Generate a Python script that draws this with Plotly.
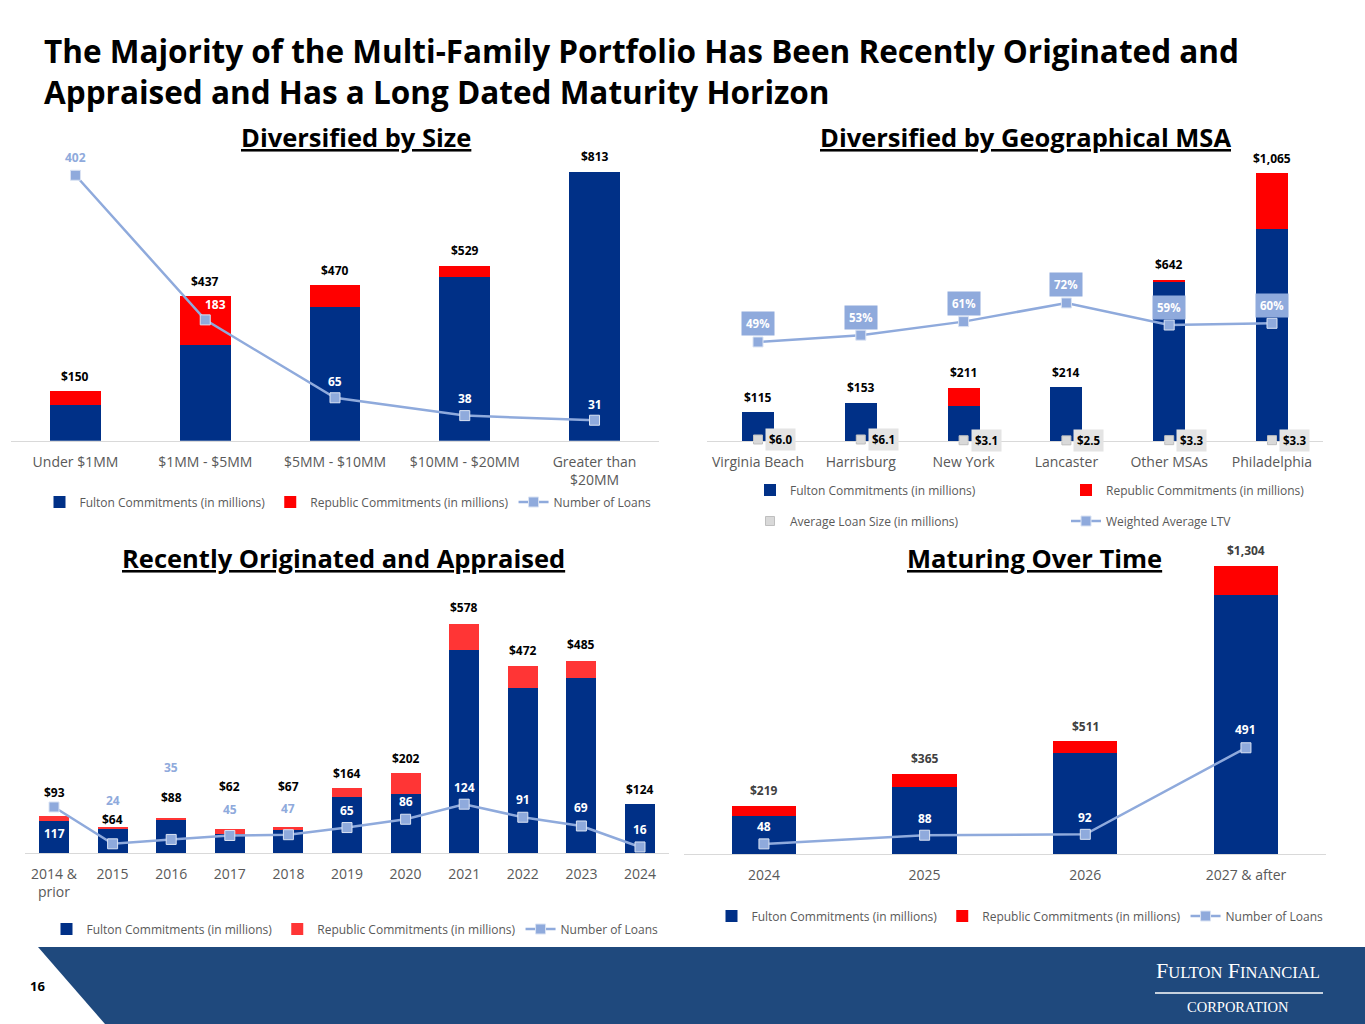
import plotly.graph_objects as go

# Diversified by Size
size_categories = ['Under $1MM', '$1MM - $5MM', '$5MM - $10MM', '$10MM - $20MM', 'Greater than<br>$20MM']
size_fulton = [108, 289, 403, 496, 813]
size_republic = [42, 148, 67, 33, 0]
size_loans = [402, 183, 65, 38, 31]

# Diversified by Geographical MSA
msa_categories = ['Virginia Beach', 'Harrisburg', 'New York', 'Lancaster', 'Other MSAs', 'Philadelphia']
msa_fulton = [115, 153, 141, 214, 637, 843]
msa_republic = [0, 0, 70, 0, 5, 222]
msa_avg_loan = [6.0, 6.1, 3.1, 2.5, 3.3, 3.3]
msa_ltv = [49, 53, 61, 72, 59, 60]

# Recently Originated and Appraised
orig_categories = ['2014 &<br>prior', '2015', '2016', '2017', '2018', '2019', '2020', '2021', '2022', '2023', '2024']
orig_fulton = [81, 61, 85, 49, 59, 142, 149, 512, 415, 441, 124]
orig_republic = [12, 3, 3, 13, 8, 22, 53, 66, 57, 44, 0]
orig_loans = [117, 24, 35, 45, 47, 65, 86, 124, 91, 69, 16]

# Maturing Over Time
mat_categories = ['2024', '2025', '2026', '2027 & after']
mat_fulton = [173, 304, 456, 1170]
mat_republic = [46, 61, 55, 134]
mat_loans = [48, 88, 92, 491]

W, H = 1365, 1024
NAVY = '#003087'
RED = '#ff0000'
RED_LIGHT = '#ff3535'
LINE_BLUE = '#8faadc'
GREY_TEXT = '#595959'
BASE_FONT = 'Open Sans'

# (x axis, bar y axis, line y axis) per chart
AXES = {1: ('x', 'y', 'y5'), 2: ('x2', 'y2', 'y6'), 3: ('x3', 'y3', 'y7'), 4: ('x4', 'y4', 'y8')}


def fx(px):
    return px / W


def fy(py):
    return 1 - py / H


def add_bars(fig, n, cats, fulton, republic, legend, width, red=RED):
    xa, ya, _ = AXES[n]
    fig.add_trace(go.Bar(x=cats, y=fulton, name='Fulton Commitments (in millions)',
                         marker=dict(color=NAVY, line=dict(width=0)), width=width,
                         xaxis=xa, yaxis=ya, legend=legend))
    fig.add_trace(go.Bar(x=cats, y=republic, name='Republic Commitments (in millions)',
                         marker=dict(color=red, line=dict(width=0)), width=width,
                         xaxis=xa, yaxis=ya, legend=legend))


def add_line(fig, n, cats, values, name, legend):
    xa, _, ya2 = AXES[n]
    fig.add_trace(go.Scatter(x=cats, y=values, name=name, mode='lines+markers',
                             line=dict(color=LINE_BLUE, width=2.5),
                             marker=dict(symbol='square', size=10, color=LINE_BLUE,
                                         line=dict(color='#dae3f3', width=1)),
                             cliponaxis=False, xaxis=xa, yaxis=ya2, legend=legend))


# annotations on category axes take the category's index
def total_labels(fig, n, cats, fulton, republic, shifts, color='#000000'):
    xa, ya, _ = AXES[n]
    for i in range(len(cats)):
        total = fulton[i] + republic[i]
        fig.add_annotation(x=i, y=total, xref=xa, yref=ya, text=f'<b>${total:,}</b>',
                           showarrow=False, yshift=shifts[i], xanchor='center', yanchor='middle',
                           font=dict(family=BASE_FONT, size=12, color=color))


def line_labels(fig, n, cats, values, colors, shifts, xshifts=None):
    xa, _, ya2 = AXES[n]
    for i in range(len(cats)):
        fig.add_annotation(x=i, y=values[i], xref=xa, yref=ya2, text=f'<b>{values[i]}</b>',
                           showarrow=False, yshift=shifts[i], xshift=(xshifts[i] if xshifts else 0),
                           xanchor='center', yanchor='middle',
                           font=dict(family=BASE_FONT, size=12, color=colors[i]))


def paper_text(fig, text, px, py, font, xanchor='center', align='center'):
    fig.add_annotation(x=fx(px), y=fy(py), xref='paper', yref='paper', text=text, showarrow=False,
                       xanchor=xanchor, yanchor='middle', align=align, font=font)


def main():
    fig = go.Figure()

    # chart 1
    add_bars(fig, 1, size_categories, size_fulton, size_republic, 'legend', 0.39)
    add_line(fig, 1, size_categories, size_loans, 'Number of Loans', 'legend')
    # chart 2
    add_bars(fig, 2, msa_categories, msa_fulton, msa_republic, 'legend2', 0.31)
    fig.add_trace(go.Scatter(x=msa_categories, y=msa_avg_loan, name='Average Loan Size (in millions)',
                             mode='markers', cliponaxis=False,
                             marker=dict(symbol='square', size=9, color='#d9d9d9',
                                         line=dict(color='#bfbfbf', width=1)),
                             xaxis='x2', yaxis='y2', legend='legend3'))
    add_line(fig, 2, msa_categories, msa_ltv, 'Weighted Average LTV', 'legend3')
    # chart 3
    add_bars(fig, 3, orig_categories, orig_fulton, orig_republic, 'legend4', 0.51, red=RED_LIGHT)
    add_line(fig, 3, orig_categories, orig_loans, 'Number of Loans', 'legend4')
    # chart 4
    add_bars(fig, 4, mat_categories, mat_fulton, mat_republic, 'legend5', 0.4)
    add_line(fig, 4, mat_categories, mat_loans, 'Number of Loans', 'legend5')

    xcommon = dict(type='category', showgrid=False, showline=True, linecolor='#d9d9d9', linewidth=1,
                   ticks='', zeroline=False, fixedrange=True, ticklabelstandoff=8,
                   tickfont=dict(family=BASE_FONT, size=14, color=GREY_TEXT))
    ycommon = dict(visible=False, showgrid=False, zeroline=False, fixedrange=True)

    fig.update_layout(
        width=W, height=H,
        margin=dict(l=0, r=0, t=0, b=0, autoexpand=False),
        paper_bgcolor='white', plot_bgcolor='rgba(0,0,0,0)',
        barmode='stack',
        font=dict(family=BASE_FONT, color=GREY_TEXT),
        xaxis=dict(xcommon, domain=[fx(10.6), fx(659.4)], anchor='y',
                   range=[-0.5, len(size_categories) - 0.5]),
        yaxis=dict(ycommon, domain=[fy(440.7), fy(142.9)], range=[0, 900], anchor='x'),
        yaxis5=dict(ycommon, overlaying='y', anchor='x', range=[0, 451]),
        xaxis2=dict(xcommon, domain=[fx(706.6), fx(1323.4)], anchor='y2',
                    range=[-0.5, len(msa_categories) - 0.5]),
        yaxis2=dict(ycommon, domain=[fy(441), fy(151.7)], range=[0, 1150], anchor='x2'),
        yaxis6=dict(ycommon, overlaying='y2', anchor='x2', range=[-9.4, 161.2]),
        xaxis3=dict(xcommon, domain=[fx(24.7), fx(669.3)], anchor='y3',
                    range=[-0.5, len(orig_categories) - 0.5]),
        yaxis3=dict(ycommon, domain=[fy(853.3), fy(595.1)], range=[0, 650], anchor='x3'),
        yaxis7=dict(ycommon, overlaying='y3', anchor='x3', range=[0, 652]),
        xaxis4=dict(xcommon, domain=[fx(683.6), fx(1326.3)], anchor='y4',
                    range=[-0.5, len(mat_categories) - 0.5]),
        yaxis4=dict(ycommon, domain=[fy(854.3), fy(544.5)], range=[0, 1400], anchor='x4'),
        yaxis8=dict(ycommon, overlaying='y4', anchor='x4', range=[0, 1428]),
    )

    legend_font = dict(family=BASE_FONT, size=12, color=GREY_TEXT)
    leg = dict(orientation='h', yanchor='middle', font=legend_font, bgcolor='rgba(0,0,0,0)',
               traceorder='normal', itemclick=False, itemdoubleclick=False)
    fig.update_layout(
        legend=dict(leg, x=fx(348), xanchor='center', y=fy(502)),
        legend2=dict(leg, x=fx(750), xanchor='left', y=fy(490), entrywidth=271),
        legend3=dict(leg, x=fx(750), xanchor='left', y=fy(521), entrywidth=271),
        legend4=dict(leg, x=fx(355), xanchor='center', y=fy(929)),
        legend5=dict(leg, x=fx(1020), xanchor='center', y=fy(916)),
    )

    # data labels
    total_labels(fig, 1, size_categories, size_fulton, size_republic, [15] * 5)
    line_labels(fig, 1, size_categories, size_loans, [LINE_BLUE] + ['white'] * 4,
                [18, 15, 16, 17, 16], xshifts=[0, 10, 0, 0, 0])

    total_labels(fig, 2, msa_categories, msa_fulton, msa_republic, [15] * 6)
    for i in range(len(msa_categories)):
        fig.add_annotation(x=i, y=msa_ltv[i], xref='x2', yref='y6', text=f'<b>{msa_ltv[i]}%</b>',
                           showarrow=False, xanchor='center', yanchor='middle', yshift=18,
                           bgcolor=LINE_BLUE, borderpad=4,
                           font=dict(family=BASE_FONT, size=11.5, color='white'))
        fig.add_annotation(x=i, y=msa_avg_loan[i], xref='x2', yref='y2', text=f'<b>${msa_avg_loan[i]:.1f}</b>',
                           showarrow=False, yanchor='middle', xanchor='left', xshift=7,
                           bgcolor='#e4e4e4', borderpad=3,
                           font=dict(family=BASE_FONT, size=11.5, color='#000000'))

    total_labels(fig, 3, orig_categories, orig_fulton, orig_republic,
                 [24, 8, 21, 42, 40, 15, 15, 16, 15, 16, 15])
    line_labels(fig, 3, orig_categories, orig_loans,
                ['white', LINE_BLUE, LINE_BLUE, LINE_BLUE, LINE_BLUE] + ['white'] * 6,
                [-27, 43, 72, 26, 26, 17, 18, 17, 18, 18, 17])

    total_labels(fig, 4, mat_categories, mat_fulton, mat_republic, [15] * 4, color='#404040')
    line_labels(fig, 4, mat_categories, mat_loans, ['white'] * 4, [17, 17, 17, 18])

    # titles
    title_font = dict(family='Open Sans', size=31.5, color='#000000')
    paper_text(fig, '<b>The Majority of the Multi-Family Portfolio Has Been Recently Originated and<br>'
                    'Appraised and Has a Long Dated Maturity Horizon</b>',
               42, 70.5, title_font, xanchor='left', align='left')
    sub_font = dict(family='Open Sans', size=25.5, color='#000000')
    for text, cx, cy in [('Diversified by Size', 356, 137),
                         ('Diversified by Geographical MSA', 1025, 137),
                         ('Recently Originated and Appraised', 343, 558),
                         ('Maturing Over Time', 1034, 558)]:
        paper_text(fig, f'<b><u>{text}</u></b>', cx, cy, sub_font)

    # footer band
    fig.add_shape(type='path', xref='paper', yref='paper', layer='below',
                  path=f'M {fx(38)} {fy(947)} L 1 {fy(947)} L 1 0 L {fx(105)} 0 Z',
                  fillcolor='#1f497d', line=dict(width=0))
    paper_text(fig, '<b>16</b>', 37, 986, dict(family=BASE_FONT, size=13, color='#000000'))
    paper_text(fig, 'F<span style="font-size:16.5px">ULTON</span> F<span style="font-size:16.5px">INANCIAL</span>',
               1238, 970, dict(family='Liberation Serif', size=22, color='white'))
    fig.add_shape(type='line', xref='paper', yref='paper', x0=fx(1155), x1=fx(1323), y0=fy(993), y1=fy(993),
                  line=dict(color='white', width=1.5))
    paper_text(fig, 'CORPORATION', 1238, 1007, dict(family='Liberation Serif', size=14.5, color='white'))

    fig.write_html("out.html", config={'displayModeBar': False},
                   post_script="document.body.style.margin = '0';")


if __name__ == "__main__":
    main()
